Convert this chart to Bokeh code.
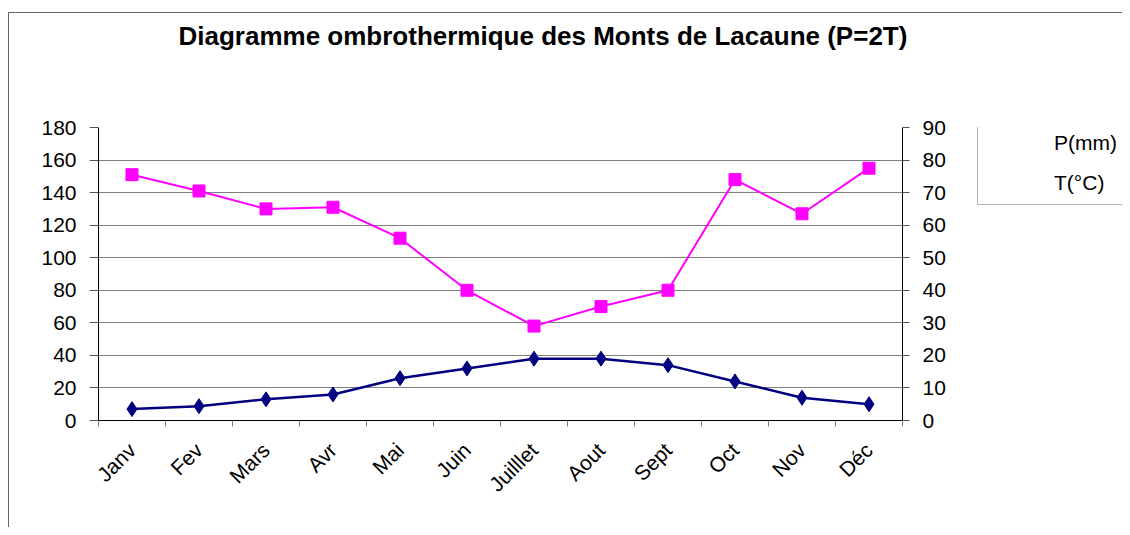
import math
from bokeh.plotting import figure
from bokeh.layouts import row
from bokeh.models import (Range1d, LinearAxis, FixedTicker, Legend, LegendItem, Title)
from bokeh.embed import file_html
from bokeh.resources import INLINE

months = ["Janv", "Fev", "Mars", "Avr", "Mai", "Juin", "Juilllet", "Aout", "Sept", "Oct", "Nov", "Déc"]
precip_mm = [151, 141, 130, 131, 112, 80, 58, 70, 80, 148, 127, 155]
temp_c = [3.5, 4.4, 6.5, 8, 13, 16, 19, 19, 17, 12, 7, 5]
left_ticks = list(range(0, 181, 20))
right_ticks = list(range(0, 91, 10))

FONT = "Liberation Sans"
P_COLOR = "#FF00FF"
T_COLOR = "#000080"

# category centres on a numeric axis (boundaries fall on integers, like Excel)
xpos = [i + 0.5 for i in range(len(months))]
bounds = list(range(len(months) + 1))

p = figure(x_range=Range1d(0, len(months)), y_range=Range1d(0, 180),
           frame_width=803, frame_height=292, output_backend="svg", toolbar_location=None,
           x_axis_location=None, y_axis_location=None,
           min_border_left=89, min_border_right=60, min_border_top=114, min_border_bottom=108,
           styles={"border-left": "1px solid #666666", "border-top": "1px solid #666666",
                   "margin-top": "12px", "margin-left": "8px"})
p.outline_line_color = None
p.extra_y_ranges = {"right": Range1d(0, 90)}

# Title (a blank title below it pushes it up towards the top of the chart)
spacer = Title(text=" ", text_font_size="12px", standoff=56)
p.add_layout(spacer, "above")
t = Title(text="Diagramme ombrothermique des Monts de Lacaune (P=2T)", align="left",
          text_font=FONT, text_font_size="26px", text_font_style="bold", text_color="black",
          offset=80, standoff=10)
p.add_layout(t, "above")

# grid
p.xgrid.visible = False
p.ygrid.ticker = FixedTicker(ticks=left_ticks)
p.ygrid.grid_line_color = "#808080"

# left axis
ly = LinearAxis(ticker=FixedTicker(ticks=left_ticks))
ly.axis_line_color = "black"
ly.major_tick_line_color = "#555555"
ly.major_tick_in = 0
ly.major_tick_out = 9
ly.minor_tick_line_color = None
ly.major_label_standoff = 13
ly.major_label_text_font = FONT
ly.major_label_text_font_size = "21px"
ly.major_label_text_color = "black"
p.add_layout(ly, "left")

# right axis
ry = LinearAxis(y_range_name="right", ticker=FixedTicker(ticks=right_ticks))
ry.axis_line_color = "black"
ry.major_tick_line_color = "#555555"
ry.major_tick_in = 0
ry.major_tick_out = 7
ry.minor_tick_line_color = None
ry.major_label_standoff = 13
ry.major_label_text_font = FONT
ry.major_label_text_font_size = "21px"
ry.major_label_text_color = "black"
p.add_layout(ry, "right")

# bottom axis: labels at category centres, small ticks at category boundaries
cx = LinearAxis(ticker=FixedTicker(ticks=xpos, minor_ticks=bounds))
cx.major_label_overrides = {x: m for x, m in zip(xpos, months)}
cx.axis_line_color = "black"
cx.major_tick_line_color = None
cx.major_tick_in = 0
cx.major_tick_out = 0
cx.minor_tick_line_color = "#808080"
cx.minor_tick_in = 0
cx.minor_tick_out = 6
cx.major_label_orientation = math.pi / 4
cx.major_label_standoff = 20
cx.major_label_text_font = FONT
cx.major_label_text_font_size = "21px"
cx.major_label_text_color = "black"
p.add_layout(cx, "below")

# series
p.line(xpos, precip_mm, line_color=P_COLOR, line_width=2)
p.scatter(xpos, precip_mm, marker="square", size=12, fill_color=P_COLOR, line_color=P_COLOR)
p.line(xpos, temp_c, line_color=T_COLOR, line_width=2.5, y_range_name="right")
p.scatter(xpos, temp_c, marker="diamond", size=15, fill_color=T_COLOR, line_color=T_COLOR,
          y_range_name="right")

# legend panel: a second, axis-less figure to the right of the chart
p2 = figure(width=161, height=514, output_backend="svg", toolbar_location=None,
            x_axis_location=None, y_axis_location=None,
            min_border_left=0, min_border_right=0, min_border_top=0, min_border_bottom=0,
            styles={"border-top": "1px solid #666666", "margin-top": "12px"})
p2.outline_line_color = None
p2.grid.visible = False
lp = p2.line([], [], line_color=P_COLOR, line_width=2)
sp = p2.scatter([], [], marker="square", size=12, fill_color=P_COLOR, line_color=P_COLOR)
lt = p2.line([], [], line_color=T_COLOR, line_width=2.5)
st = p2.scatter([], [], marker="diamond", size=15, fill_color=T_COLOR, line_color=T_COLOR)

legend = Legend(items=[LegendItem(label="P(mm)", renderers=[lp, sp]),
                       LegendItem(label="T(°C)", renderers=[lt, st])],
                location=(16, 214))
legend.border_line_color = "#666666"
legend.background_fill_color = "white"
legend.background_fill_alpha = 1
legend.label_text_font = FONT
legend.label_text_font_size = "21px"
legend.label_text_color = "black"
legend.glyph_width = 62
legend.glyph_height = 20
legend.label_standoff = 5
legend.spacing = 16
legend.padding = 9
legend.margin = 0
p2.add_layout(legend, "center")

layout = row(p, p2)
open("out.html", "w").write(file_html(layout, INLINE))
